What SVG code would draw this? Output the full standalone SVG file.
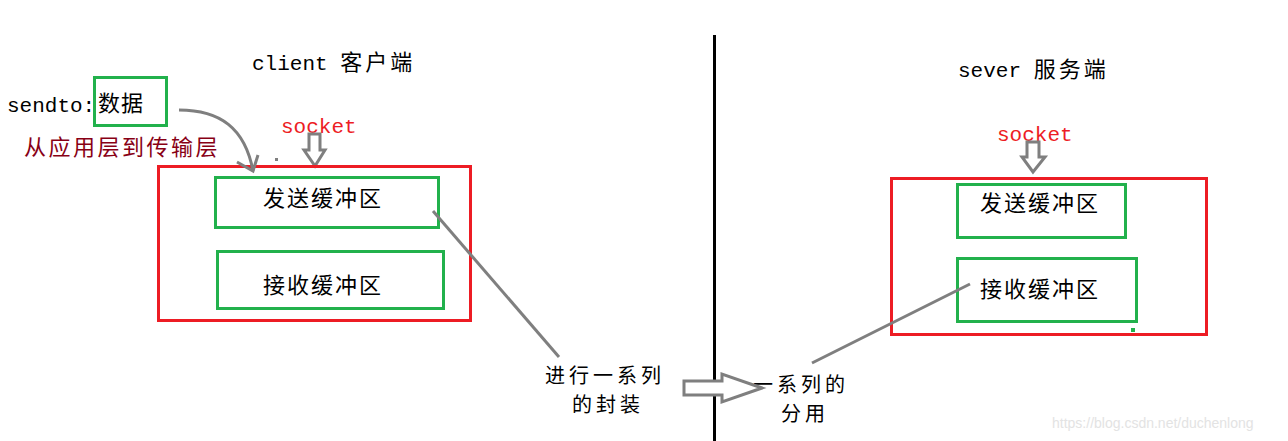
<svg xmlns="http://www.w3.org/2000/svg" width="1288" height="441" viewBox="0 0 1288 441">
<style>
.mono{font-family:"Liberation Mono","Noto Sans CJK SC",monospace;font-size:21px;fill:#000}
.cjk{font-family:"Noto Sans CJK SC","Noto Sans CJK JP",sans-serif;font-size:22px;fill:#000;letter-spacing:2px}
.lbl{font-family:"Noto Sans CJK SC","Noto Sans CJK JP",sans-serif;font-size:20px;fill:#000;letter-spacing:4px}
.sock{font-family:"Liberation Mono",monospace;font-size:21px;fill:#ed1c24}
.red{fill:none;stroke:#ed1c24;stroke-width:3}
.grn{fill:none;stroke:#22b14c;stroke-width:3}
.gray{fill:none;stroke:#7f7f7f;stroke-width:3}
.hollow{fill:#fff;stroke:#7f7f7f;stroke-width:3;stroke-linejoin:miter}
</style>
<rect width="1288" height="441" fill="#fff"/>
<g id="divider"><line x1="714.5" y1="35" x2="714.5" y2="441" stroke="#000" stroke-width="3"/></g>
<g id="client-title"><text x="252" y="70" class="mono">client <tspan class="cjk" style="font-size:22px;letter-spacing:3px">客户端</tspan></text></g>
<g id="server-title"><text x="958" y="77" class="mono">sever <tspan class="cjk" style="font-size:22px;letter-spacing:3px">服务端</tspan></text></g>
<g id="sendto">
<text x="7" y="112" class="mono">sendto:</text>
<rect x="94.5" y="77.5" width="72" height="48" class="grn"/>
<text x="98" y="111" class="cjk" style="letter-spacing:1px">数据</text>
</g>
<g id="layer-label"><text x="24" y="155" class="cjk" style="fill:#880015;letter-spacing:2.5px">从应用层到传输层</text></g>
<g id="client-socket">
<text x="281" y="133" class="sock">socket</text>
<polygon points="309,134 320,134 320,150 325,150 315,166 304,150 309,150" class="hollow"/>
</g>
<g id="client">
<rect x="158.5" y="166.5" width="312" height="154" class="red"/>
<g id="client-send"><rect x="215.5" y="177.5" width="223" height="50" class="grn"/><text x="263" y="206" class="cjk">发送缓冲区</text></g>
<g id="client-recv"><rect x="217.5" y="251.5" width="226" height="57" class="grn"/><text x="263" y="293" class="cjk">接收缓冲区</text></g>
</g>
<g id="server-socket">
<text x="997" y="141" class="sock">socket</text>
<polygon points="1027,142 1039,142 1039,157 1045,157 1033,172 1022,157 1027,157" class="hollow"/>
</g>
<g id="server">
<rect x="891.5" y="178.5" width="315" height="156" class="red"/>
<g id="server-send"><rect x="957.5" y="184.5" width="168" height="53" class="grn"/><text x="980" y="211" class="cjk">发送缓冲区</text></g>
<g id="server-recv"><rect x="957.5" y="258.5" width="179" height="63" class="grn"/><text x="980" y="297" class="cjk">接收缓冲区</text></g>
<rect x="1131" y="328" width="4" height="4" fill="#22b14c"/>
</g>
<g id="encap-label"><text class="lbl"><tspan x="545" y="383">进行一系列</tspan><tspan x="572" y="412">的封装</tspan></text></g>
<g id="demux-label"><text class="lbl"><tspan x="753" y="392">一系列的</tspan><tspan x="781" y="421">分用</tspan></text></g>
<g id="connectors">
<path d="M179,110 C220,110 245,128 253,171" class="gray"/>
<polyline points="237,162 253,171 258,155" class="gray"/>
<rect x="275" y="158" width="3" height="3" fill="#7f7f7f"/>
<line x1="433" y1="211" x2="559" y2="357" class="gray"/>
<polygon points="684,381 722,381 722,374 762,388 722,402 722,395 684,395" class="hollow"/>
<line x1="812" y1="363" x2="970" y2="284" class="gray"/>
</g>
<text x="1052" y="428" font-family="Liberation Sans,Arial,sans-serif" font-size="14" fill="#e3e3e3">https://blog.csdn.net/duchenlong</text>
</svg>
